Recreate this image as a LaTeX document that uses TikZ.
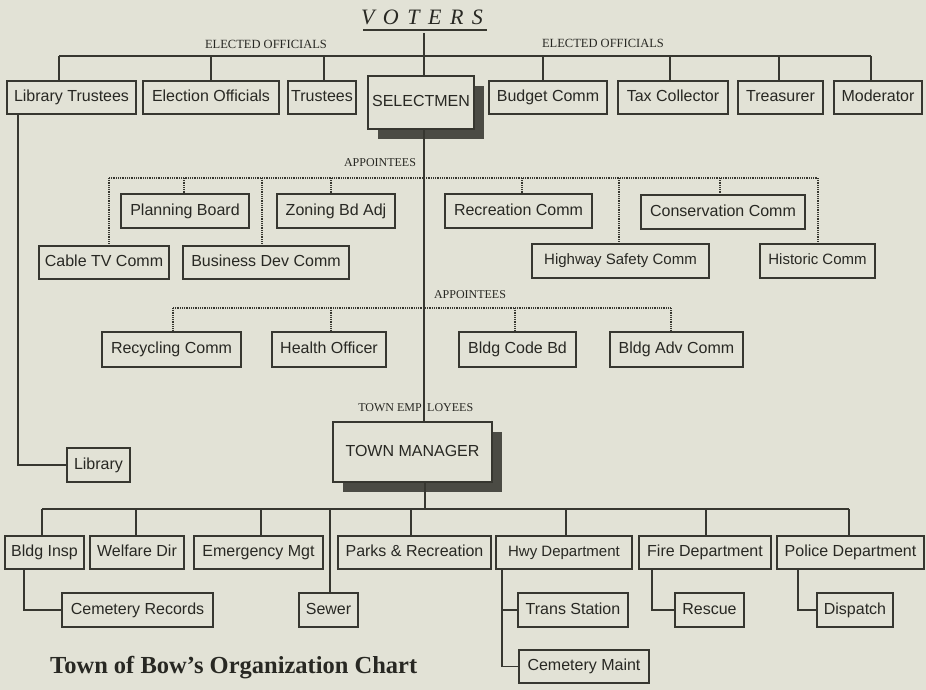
\documentclass[tikz,border=0pt]{standalone}
\usepackage{fontspec}
\setmainfont{Liberation Serif}
\setsansfont{Liberation Sans}
\usetikzlibrary{shadows}
\definecolor{bgc}{RGB}{226,226,214}
\definecolor{linec}{RGB}{55,55,48}
\definecolor{txtc}{RGB}{40,40,35}
\definecolor{shc}{RGB}{75,75,68}
\newcommand\bx[7][]{\node[box,minimum width={(#5-#3)*1pt},minimum height={(#6-#4)*1pt},#1] (#2) at ({(#3+#5)/2},{(#4+#6)/2}) {#7};}
\newcommand\drop[4][]{\draw[ln,#1] (#2,#3) -- (#2,#3 |- #4.north);}
\begin{document}
\begin{tikzpicture}[x=1pt,y=-1pt,
 box/.style={draw=linec,line width=1.3pt,fill=bgc,inner sep=0pt,text=txtc,text height=11.5pt,text depth=3.4pt,font=\sffamily\fontsize{16}{19}\selectfont},
 sbox/.style={box,drop shadow={shadow xshift=10pt,shadow yshift=-10pt,fill=shc,opacity=1}},
 small/.style={font=\sffamily\fontsize{15}{18}\selectfont,text height=10.8pt,text depth=3.2pt},
 ln/.style={draw=linec,line width=1.3pt},
 dl/.style={draw=linec,line width=1.1pt,dash pattern=on 1pt off 0.8pt},
 lab/.style={text=txtc,inner sep=0pt,anchor=base,font=\fontsize{12.5}{14}\selectfont}
]
\fill[bgc] (0,0) rectangle (926,690);
\useasboundingbox (0,0) rectangle (926,690);

% title
\node[lab,font=\itshape\fontsize{22}{26}\selectfont] (voters) at (422,25) {\spaceskip=8.5pt plus 0pt V O T E R S};
\coordinate (ul1) at (363,30);
\coordinate (ul2) at (487,30);
\draw[ln] (ul1) -- (ul2);
\coordinate (cx) at (424,33);

% elected officials
\node[lab] (eo1) at (266,49) {ELECTED OFFICIALS};
\node[lab] (eo2) at (603,47.5) {ELECTED OFFICIALS};
\bx{libtr}{7}{81}{136}{114}{Library Trustees}
\bx{elec}{143}{81}{279}{114}{Election Officials}
\bx{trus}{288}{81}{356}{114}{Trustees}
\bx[sbox]{sel}{368}{76}{474}{129}{SELECTMEN}
\bx{budg}{489}{81}{607}{114}{Budget Comm}
\bx{tax}{618}{81}{728}{114}{Tax Collector}
\bx{treas}{738}{81}{823}{114}{Treasurer}
\bx{mod}{834}{81}{922}{114}{Moderator}
\draw[ln] (cx) -- (sel.north -| cx);
\coordinate (tbL) at (59,56);
\coordinate (tbR) at (871,56);
\draw[ln] (tbL) -- (tbR);
\drop{59}{56}{libtr}
\drop{211}{56}{elec}
\drop{324}{56}{trus}
\drop{543}{56}{budg}
\drop{670}{56}{tax}
\drop{779}{56}{treas}
\drop{871}{56}{mod}

% appointees 1
\node[lab,font=\fontsize{12}{14}\selectfont] (ap1) at (380,166.5) {APPOINTEES};
\coordinate (a1L) at (109,178);
\coordinate (a1R) at (818,178);
\draw[dl] (a1L) -- (a1R);
\bx{plan}{121}{194}{249}{228}{Planning Board}
\bx{zon}{277}{194}{395}{228}{Zoning Bd Adj}
\bx{cable}{39}{246}{169}{279}{Cable TV Comm}
\bx{busd}{183}{246}{349}{279}{Business Dev Comm}
\bx{recr}{445}{194}{592}{228}{Recreation Comm}
\bx[small]{hws}{532}{244}{709}{278}{Highway Safety Comm}
\bx{cons}{641}{195}{805}{229}{Conservation Comm}
\bx[small]{hist}{760}{244}{875}{278}{Historic Comm}
\drop[dl]{184}{178}{plan}
\drop[dl]{331}{178}{zon}
\drop[dl]{109}{178}{cable}
\drop[dl]{262}{178}{busd}
\drop[dl]{522}{178}{recr}
\drop[dl]{619}{178}{hws}
\drop[dl]{720}{178}{cons}
\drop[dl]{818}{178}{hist}

% appointees 2
\node[lab,font=\fontsize{12}{14}\selectfont] (ap2) at (470,298.5) {APPOINTEES};
\coordinate (a2L) at (173,308);
\coordinate (a2R) at (671,308);
\draw[dl] (a2L) -- (a2R);
\bx{recy}{102}{332}{241}{367}{Recycling Comm}
\bx{health}{272}{332}{386}{367}{Health Officer}
\bx{bcode}{459}{332}{576}{367}{Bldg Code Bd}
\bx{badv}{610}{332}{743}{367}{Bldg Adv Comm}
\drop[dl]{173}{308}{recy}
\drop[dl]{331}{308}{health}
\drop[dl]{515}{308}{bcode}
\drop[dl]{671}{308}{badv}

% town manager
\node[lab,anchor=base east,font=\fontsize{12}{14}\selectfont] (te1) at (422,411) {TOWN EMP};
\node[lab,anchor=base west,font=\fontsize{12}{14}\selectfont] (te2) at (427,411) {LOYEES};
\bx[sbox]{tm}{333}{422}{492}{482}{TOWN MANAGER}
\draw[ln] (sel.south -| cx) -- (tm.north -| cx);

% library
\bx{lib}{67}{448}{130}{482}{Library}
\coordinate (l1) at (18,0);
\draw[ln] (libtr.south -| l1) |- (lib.west);

% employees
\coordinate (cx2) at (425,509);
\draw[ln] (tm.south -| cx2) -- (cx2);
\coordinate (bbL) at (42,509);
\coordinate (bbR) at (849,509);
\draw[ln] (bbL) -- (bbR);
\bx{binsp}{5}{536}{84}{569}{Bldg Insp}
\bx{welf}{90}{536}{184}{569}{Welfare Dir}
\bx{emerg}{194}{536}{323}{569}{Emergency Mgt}
\bx{parks}{338}{536}{491}{569}{Parks \& Recreation}
\bx[small]{hwy}{496}{536}{632}{569}{Hwy Department}
\bx{fire}{639}{536}{771}{569}{Fire Department}
\bx{police}{777}{536}{924}{569}{Police Department}
\bx{sewer}{299}{593}{358}{627}{Sewer}
\drop{42}{509}{binsp}
\drop{136}{509}{welf}
\drop{261}{509}{emerg}
\drop{330}{509}{sewer}
\drop{411}{509}{parks}
\drop{566}{509}{hwy}
\drop{706}{509}{fire}
\drop{849}{509}{police}

\bx{cemrec}{62}{593}{213}{627}{Cemetery Records}
\bx{trans}{518}{593}{628}{627}{Trans Station}
\bx{cemm}{519}{650}{649}{683}{Cemetery Maint}
\bx{resc}{675}{593}{744}{627}{Rescue}
\bx{disp}{817}{593}{893}{627}{Dispatch}
\coordinate (c1) at (24,0);
\coordinate (h1) at (502,0);
\coordinate (f1) at (652,0);
\coordinate (p1) at (798,0);
\draw[ln] (binsp.south -| c1) |- (cemrec.west);
\draw[ln] (hwy.south -| h1) |- (cemm.west);
\draw[ln] (trans.west -| h1) -- (trans.west);
\draw[ln] (fire.south -| f1) |- (resc.west);
\draw[ln] (police.south -| p1) |- (disp.west);

% caption
\node[anchor=base west,inner sep=0pt,text=txtc,font=\bfseries\fontsize{24.5}{28}\selectfont] (cap) at (50,673) {Town of Bow’s Organization Chart};
\end{tikzpicture}
\end{document}
